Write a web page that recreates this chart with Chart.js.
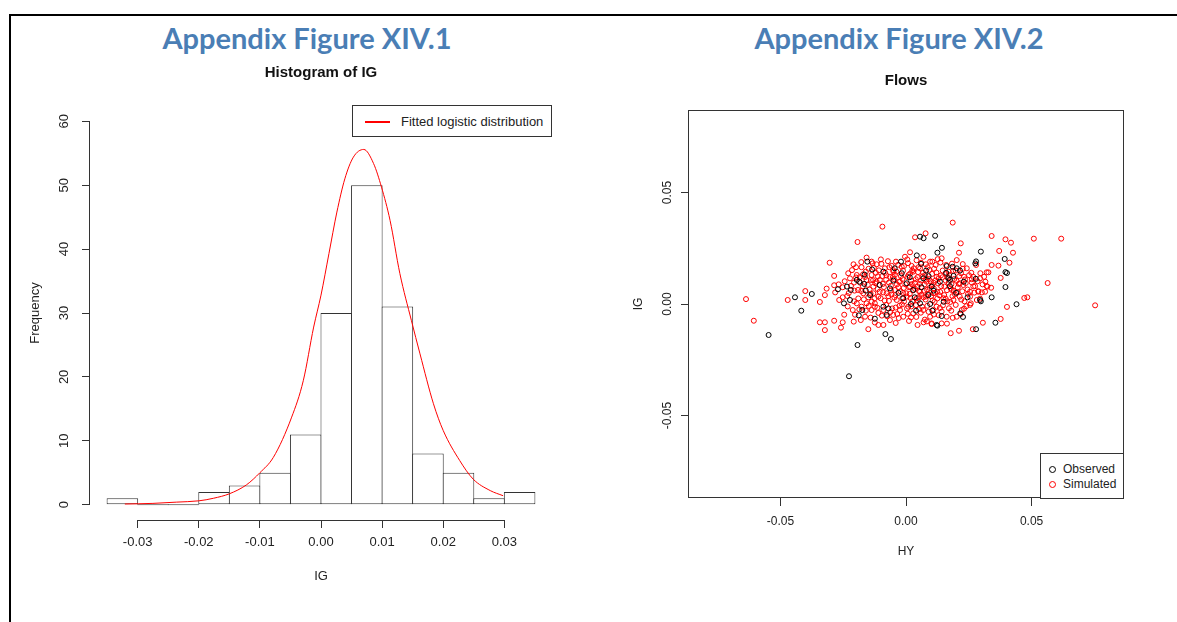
<!DOCTYPE html>
<html>
<head>
<meta charset="utf-8">
<script src="https://cdn.jsdelivr.net/npm/chart.js@4"></script>
<style>
body { margin:0; width:1177px; height:622px; background:#fff; overflow:hidden; position:relative; font-family:'Liberation Sans', Arial, sans-serif; }
.frameTop { position:absolute; left:9px; top:14px; right:0; height:2px; background:#000; }
.frameLeft { position:absolute; left:9px; top:14px; bottom:0; width:2px; background:#000; }
.head { position:absolute; top:22px; font-family:Lato, 'Open Sans', sans-serif; font-weight:bold; font-size:29px; line-height:32px; color:#4A7EB5; text-align:center; }
canvas { position:absolute; top:0; }
.leg { position:absolute; box-sizing:border-box; border:1px solid #333; background:#fff; color:#222; }
.leg span { position:absolute; white-space:nowrap; }
</style>
</head>
<body>
<div class="frameTop"></div>
<div class="frameLeft"></div>
<div class="head" style="left:0;width:614px">Appendix Figure XIV.1</div>
<div class="head" style="left:604px;width:590px">Appendix Figure XIV.2</div>

<canvas id="hist" width="642" height="622" style="left:0;width:642px;height:622px"></canvas>
<canvas id="flows" width="572" height="622" style="left:620px;width:572px;height:622px"></canvas>

<div class="leg" style="left:352px;top:105px;width:200px;height:32px;font-size:13px">
  <span style="left:12px;top:15px;width:25px;height:2px;background:#f00"></span>
  <span style="left:48px;top:8px">Fitted logistic distribution</span>
</div>
<div class="leg" style="left:1040px;top:453px;width:84px;height:46px;font-size:12px">
  <span style="left:8px;top:12px;width:5px;height:5px;border:1px solid #000;border-radius:50%"></span>
  <span style="left:22px;top:8px">Observed</span>
  <span style="left:8px;top:27px;width:5px;height:5px;border:1px solid #f00;border-radius:50%"></span>
  <span style="left:22px;top:23px">Simulated</span>
</div>

<script>
// гистограмма IG (ширина корзины 0.005)
const binCenters = [-0.0325, -0.0275, -0.0225, -0.0175, -0.0125, -0.0075, -0.0025, 0.0025, 0.0075, 0.0125, 0.0175, 0.0225, 0.0275, 0.0325];
const binCounts = [1, 0, 0, 2, 3, 5, 11, 30, 50, 31, 8, 5, 1, 2];

// точки красной кривой
const curveX = [-0.0321, -0.0275, -0.0236, -0.0200, -0.0176, -0.0150, -0.0122, -0.0100, -0.0078, -0.0048, -0.0029, -0.0012, 0.0000, 0.0013, 0.0026, 0.0039, 0.0053, 0.0070, 0.0086, 0.0099, 0.0113, 0.0129, 0.0148, 0.0162, 0.0184, 0.0200, 0.0227, 0.0249, 0.0277, 0.0298];
const curveY = [0.1, 0.2, 0.4, 0.6, 1.0, 1.7, 3.1, 5.0, 7.4, 13.7, 19.4, 27.8, 32.8, 39.3, 45.8, 51.0, 54.4, 55.6, 53.4, 49.7, 44.5, 36.2, 28.8, 23.6, 15.8, 11.6, 6.9, 4.0, 2.2, 1.4];

const histXTicks = [-0.03, 0.03];
const histYTicks = [0, 60];

// Flows: [HY, IG]
const observed = [
[-0.0547,-0.0139],[-0.0442,0.0030],[-0.0417,-0.0030],[-0.0375,0.0045],[-0.0271,0.0066],[-0.0193,-0.0184],[-0.0227,-0.0324],
[-0.0247,0.0003],[-0.0223,0.0018],[-0.0235,0.0078],[-0.0220,0.0063],[-0.0196,0.0108],[-0.0186,0.0100],[-0.0165,0.0132],
[-0.0166,0.0090],[-0.0188,-0.0051],[-0.0124,-0.0066],[-0.0174,-0.0027],[-0.0154,0.0190],[-0.0143,0.0040],
[0.0056,0.0302],[0.0070,0.0295],[0.0116,0.0306],[0.0143,0.0252],[0.0125,0.0230],[0.0043,0.0218],[0.0298,0.0235],
[0.0279,0.0191],[0.0276,0.0182],[0.0278,0.0113],[0.0298,0.0012],[0.0216,-0.0042],[0.0227,-0.0058],[0.0125,-0.0097],
[0.0279,-0.0113],[0.0356,-0.0084],[-0.0082,-0.0135],[-0.0060,-0.0157],[0.0162,0.0170],[0.0186,0.0167],[0.0202,0.0160],
[0.0189,0.0126],[0.0169,0.0115],[0.0142,-0.0054],[0.0096,0.0000],[0.0062,0.0075],
[0.0393,0.0202],[0.0396,0.0143],[0.0402,0.0139],[0.0396,0.0076],[0.0341,0.0030],[0.0440,-0.0001],
[-0.0090,0.0145],[-0.0017,0.0138],[0.0069,0.0115],[0.0175,0.0108],[0.0029,0.0063],[0.0089,0.0040],[-0.0064,0.0070],
[-0.0011,0.0026],[0.0056,0.0003],[-0.0090,-0.0012],[-0.0077,-0.0049],[0.0122,-0.0094],[0.0295,0.0018],[0.0003,0.0093],[0.0102,0.0078],
[-0.0135,0.0155],[-0.0105,0.0085],[-0.0050,0.0105],[-0.0030,0.0050],[0.0015,0.0120],[0.0035,0.0030],[0.0080,0.0150],
[0.0110,0.0060],[0.0135,0.0100],[0.0150,0.0010],[0.0200,0.0050],[0.0230,0.0100],[0.0245,0.0030],[-0.0160,0.0060],
[-0.0070,-0.0020],[0.0040,-0.0030],[0.0090,0.0125],[0.0060,0.0180],[-0.0020,0.0190],[0.0175,0.0080],[0.0105,-0.0030],
[-0.0045,0.0160],[0.0020,0.0000],[0.0160,0.0140],[0.0215,0.0150]
];

const simulated = [
[-0.0637,0.0022],[-0.0606,-0.0075],[-0.0471,0.0018],[-0.0401,0.0058],[-0.0401,0.0018],[-0.0343,0.0009],[-0.0323,0.0040],
[-0.0316,0.0069],[-0.0343,-0.0082],[-0.0323,-0.0082],[-0.0323,-0.0117],[-0.0286,-0.0075],[-0.0286,0.0084],[-0.0286,0.0126],
[-0.0304,0.0185],[-0.0259,-0.0106],[-0.0252,-0.0082],[-0.0246,-0.0048],[-0.0252,0.0075],[-0.0193,0.0278],[-0.0157,0.0208],
[-0.0215,0.0152],[-0.0199,0.0165],[-0.0177,0.0165],[-0.0223,0.0115],[-0.0207,0.0096],[-0.0252,0.0030],[-0.0234,0.0036],
[-0.0170,0.0048],[-0.0150,0.0030],[-0.0130,0.0048],[-0.0117,0.0100],[-0.0137,0.0130],[-0.0133,0.0182],[-0.0117,0.0178],
[-0.0191,0.0063],[-0.0157,0.0003],[-0.0137,-0.0027],[-0.0180,-0.0072],[-0.0150,-0.0113],[-0.0163,-0.0057],[-0.0212,-0.0027],
[-0.0177,-0.0012],[-0.0110,-0.0094],[-0.0196,0.0130],[-0.0157,0.0108],[-0.0196,0.0003],[-0.0124,0.0003],
[0.0341,0.0305],[0.0396,0.0290],[0.0418,0.0275],[0.0509,0.0293],[0.0618,0.0293],[0.0371,0.0238],[0.0426,0.0230],
[0.0341,0.0175],[0.0412,0.0185],[0.0377,0.0117],[0.0564,0.0094],[0.0339,0.0073],[0.0471,0.0027],[0.0483,0.0030],
[0.0402,-0.0013],[0.0753,-0.0006],[0.0377,-0.0067],
[0.0186,0.0365],[0.0036,0.0299],[0.0078,0.0317],[0.0218,0.0272],[0.0211,0.0230],[0.0226,0.0179],[0.0279,0.0175],
[0.0321,0.0142],[0.0311,0.0122],[0.0316,0.0100],[0.0324,0.0078],[0.0262,0.0096],[0.0255,0.0055],[0.0272,0.0051],
[0.0288,0.0055],[0.0302,0.0052],[0.0295,0.0024],[0.0258,0.0003],[0.0306,-0.0084],[0.0266,-0.0113],[0.0211,-0.0120],
[0.0178,-0.0131],[0.0102,-0.0090],[0.0070,-0.0082],
[-0.0094,0.0347],[0.0016,0.0232],[-0.0004,0.0212],[0.0069,0.0212],[0.0096,0.0190],[-0.0137,0.0190],[-0.0084,0.0160],
[-0.0051,0.0152],[-0.0017,0.0167],[0.0029,0.0145],[0.0056,0.0160],
[0.0142,0.0205],[0.0202,0.0197],[0.0242,0.0160],[0.0268,0.0122],[0.0295,0.0115],[0.0328,0.0142],[0.0368,0.0172],
[0.0321,0.0081],[0.0288,0.0058],[0.0315,0.0055],[0.0255,0.0033],[0.0215,0.0093],[0.0182,0.0063],[0.0169,0.0145],
[0.0122,0.0122],[0.0082,0.0100],[0.0016,0.0078],[-0.0024,0.0100],[-0.0064,0.0122],[-0.0104,0.0108],[-0.0130,0.0078],
[-0.0077,0.0048],[-0.0037,0.0018],[0.0003,0.0033],[0.0043,0.0026],[0.0109,0.0048],[0.0149,0.0026],[0.0189,0.0018],
[0.0122,-0.0012],[0.0069,-0.0027],[0.0029,-0.0042],[-0.0011,-0.0057],[-0.0051,-0.0049],[-0.0090,-0.0027],[-0.0124,-0.0012],
[-0.0064,-0.0072],[-0.0090,-0.0094],[-0.0024,-0.0027],[0.0096,-0.0057],[0.0162,-0.0057],[0.0222,-0.0027],[0.0255,-0.0004],
[0.0282,0.0018],[0.0202,-0.0057],[0.0142,-0.0087],[0.0102,-0.0087],[0.0009,-0.0012],[0.0056,0.0055],[-0.0044,0.0063],
[-0.0110,0.0033],
[-0.0185,0.0120],[-0.0160,0.0145],[-0.0145,0.0065],[-0.0120,0.0140],[-0.0105,0.0055],[-0.0098,0.0180],[-0.0092,0.0090],
[-0.0085,0.0015],[-0.0078,0.0128],[-0.0070,0.0035],[-0.0066,0.0165],[-0.0060,0.0082],[-0.0055,-0.0020],[-0.0048,0.0112],
[-0.0042,0.0040],[-0.0038,0.0145],[-0.0030,0.0075],[-0.0026,-0.0008],[-0.0020,0.0125],[-0.0012,0.0050],[-0.0008,0.0170],
[-0.0002,0.0088],[0.0004,-0.0020],[0.0010,0.0130],[0.0015,0.0045],[0.0020,0.0105],[0.0025,0.0012],[0.0031,0.0160],
[0.0036,0.0068],[0.0040,-0.0005],[0.0046,0.0120],[0.0050,0.0030],[0.0055,0.0090],[0.0060,0.0185],[0.0064,-0.0012],
[0.0068,0.0140],[0.0072,0.0060],[0.0078,0.0020],[0.0082,0.0110],[0.0086,0.0165],[0.0090,-0.0035],[0.0094,0.0072],
[0.0100,0.0035],[0.0104,0.0135],[0.0110,0.0095],[0.0114,0.0010],[0.0118,0.0175],[0.0124,0.0055],[0.0130,0.0115],
[0.0135,-0.0018],[0.0140,0.0080],[0.0146,0.0150],[0.0152,0.0040],[0.0158,0.0105],[0.0165,0.0012],[0.0172,0.0130],
[0.0178,0.0070],[0.0185,0.0035],[0.0192,0.0112],[0.0198,0.0150],[0.0205,0.0052],[0.0212,0.0125],[0.0220,0.0020],
[0.0228,0.0085],[0.0235,0.0110],[0.0245,0.0065],[-0.0140,0.0108],[-0.0172,0.0080],[-0.0110,-0.0040],[-0.0075,-0.0055],
[-0.0035,-0.0045],[0.0005,0.0200],[0.0050,0.0165],[0.0105,0.0190],[0.0160,0.0175],[-0.0040,0.0190],[0.0020,-0.0060],
[0.0075,-0.0070],[0.0130,-0.0050],[0.0180,-0.0030],[0.0240,-0.0010],[-0.0015,0.0025],[0.0060,0.0105],[0.0115,0.0050],
[0.0170,0.0095],[-0.0095,0.0125],[0.0035,0.0095],[0.0088,0.0045],[0.0145,0.0120],[-0.0060,0.0060],[-0.0028,0.0100],
[0.0012,0.0075],[0.0052,0.0058],[0.0098,0.0102],[0.0125,0.0025],[0.0190,0.0060],[-0.0125,0.0025],[-0.0190,0.0025],
[-0.0205,0.0060],[-0.0160,-0.0030],[-0.0100,0.0200],[-0.0050,0.0145],[0.0025,0.0150],[0.0070,0.0030],[0.0210,0.0090],
[0.0260,0.0140],[0.0275,0.0080],
// плотное ядро облака
[-0.0178,0.0188],[-0.0128,0.0162],[-0.0072,0.0192],[-0.0031,0.0176],[0.0008,0.0183],[0.0042,0.0196],[0.0079,0.0178],
[0.0112,0.0158],[0.0137,0.0186],[0.0183,0.0181],[0.0226,0.0158],[-0.0209,0.0178],[-0.0057,0.0171],[0.0022,0.0171],[0.0126,0.0201],
[-0.0230,0.0138],[-0.0171,0.0133],[-0.0149,0.0158],[-0.0108,0.0151],[-0.0083,0.0140],[-0.0044,0.0131],[-0.0012,0.0149],
[0.0017,0.0137],[0.0048,0.0143],[0.0076,0.0129],[0.0093,0.0153],[0.0121,0.0141],[0.0158,0.0137],[0.0188,0.0149],
[0.0219,0.0138],[0.0251,0.0129],[0.0296,0.0138],
[-0.0244,0.0102],[-0.0199,0.0119],[-0.0163,0.0121],[-0.0131,0.0107],[-0.0112,0.0124],[-0.0079,0.0109],[-0.0052,0.0121],
[-0.0014,0.0112],[0.0006,0.0121],[0.0039,0.0111],[0.0067,0.0124],[0.0091,0.0112],[0.0117,0.0105],[0.0139,0.0128],
[0.0166,0.0118],[0.0201,0.0104],[0.0231,0.0122],[0.0262,0.0111],[0.0285,0.0102],
[-0.0268,0.0088],[-0.0219,0.0081],[-0.0182,0.0095],[-0.0152,0.0086],[-0.0122,0.0093],[-0.0088,0.0076],[-0.0068,0.0096],
[-0.0036,0.0088],[-0.0009,0.0072],[0.0023,0.0089],[0.0046,0.0079],[0.0074,0.0088],[0.0104,0.0083],[0.0128,0.0092],
[0.0153,0.0078],[0.0181,0.0089],[0.0206,0.0074],[0.0238,0.0094],[0.0268,0.0079],[0.0305,0.0088],
[-0.0282,0.0052],[-0.0228,0.0049],[-0.0178,0.0058],[-0.0141,0.0046],[-0.0113,0.0067],[-0.0091,0.0052],[-0.0058,0.0043],
[-0.0022,0.0057],[0.0001,0.0048],[0.0028,0.0061],[0.0061,0.0041],[0.0084,0.0064],[0.0111,0.0069],[0.0136,0.0054],
[0.0163,0.0062],[0.0195,0.0043],[0.0224,0.0057],[0.0247,0.0045],
[-0.0266,0.0018],[-0.0207,0.0012],[-0.0168,0.0021],[-0.0136,0.0011],[-0.0101,0.0026],[-0.0068,0.0014],[-0.0046,0.0029],
[-0.0008,0.0011],[0.0018,0.0027],[0.0047,0.0015],[0.0081,0.0034],[0.0106,0.0016],[0.0133,0.0039],[0.0158,0.0024],
[0.0176,0.0009],[0.0214,0.0033],[0.0233,0.0012],
[-0.0232,-0.0011],[-0.0186,-0.0024],[-0.0148,-0.0009],[-0.0114,-0.0017],[-0.0079,-0.0004],[-0.0041,-0.0016],[-0.0016,-0.0002],
[0.0021,-0.0011],[0.0052,-0.0023],[0.0085,-0.0008],[0.0109,-0.0026],[0.0147,-0.0006],[0.0171,-0.0019],[0.0198,-0.0004],[0.0231,-0.0021],
[-0.0203,-0.0048],[-0.0141,-0.0061],[-0.0096,-0.0052],[-0.0062,-0.0036],[-0.0029,-0.0063],[0.0007,-0.0044],[0.0041,-0.0058],
[0.0059,-0.0039],[0.0111,-0.0047],[0.0142,-0.0034],[0.0186,-0.0062],[0.0218,-0.0045],
[-0.0124,-0.0083],[-0.0041,-0.0085],[0.0012,-0.0076],[0.0046,-0.0094],[0.0083,-0.0078],[0.0163,-0.0088],[-0.0208,-0.0079]
];

Chart.defaults.font.family = "'Liberation Sans', Arial, sans-serif";
Chart.defaults.color = '#222';
Chart.defaults.animation = false;

const lineCol = '#333';

// ось как в R: линия только от первого до последнего деления
const histAxes = {
  id: 'histAxes',
  afterDraw(chart) {
    const ctx = chart.ctx, a = chart.chartArea;
    const xs = chart.scales.x, ys = chart.scales.y;
    ctx.save();
    ctx.strokeStyle = lineCol;
    ctx.lineWidth = 1;
    ctx.beginPath();
    const yb = Math.round(a.bottom) + 0.5;
    ctx.moveTo(xs.getPixelForValue(histXTicks[0]), yb);
    ctx.lineTo(xs.getPixelForValue(histXTicks[1]), yb);
    const xl = Math.round(a.left) - 0.5;
    ctx.moveTo(xl, ys.getPixelForValue(histYTicks[0]));
    ctx.lineTo(xl, ys.getPixelForValue(histYTicks[1]));
    ctx.stroke();
    ctx.restore();
  }
};

// рамка вокруг области графика
const boxFrame = {
  id: 'boxFrame',
  afterDraw(chart) {
    const ctx = chart.ctx, a = chart.chartArea;
    ctx.save();
    ctx.strokeStyle = lineCol;
    ctx.lineWidth = 1;
    ctx.strokeRect(Math.round(a.left) - 0.5, Math.round(a.top) + 0.5, Math.round(a.right - a.left) + 1, Math.round(a.bottom - a.top) - 1);
    ctx.restore();
  }
};

function tickGrid() {
  return { display: true, drawOnChartArea: false, drawTicks: true, tickLength: 8, color: lineCol };
}

// пустая ось справа, чтобы заголовок был по центру области графика
function spacer(w) {
  return {
    position: 'right', display: true,
    ticks: { display: false }, grid: { display: false }, border: { display: false },
    afterFit(s) { s.width = w; }
  };
}

new Chart(document.getElementById('hist'), {
  type: 'bar',
  data: {
    datasets: [
      {
        type: 'line',
        data: curveX.map((x, i) => ({ x: x, y: curveY[i] })),
        borderColor: '#ff0000',
        borderWidth: 1,
        pointRadius: 0,
        cubicInterpolationMode: 'monotone',
        fill: false,
        order: 0
      },
      {
        type: 'bar',
        data: binCenters.map((x, i) => ({ x: x, y: binCounts[i] })),
        backgroundColor: '#fff',
        borderColor: lineCol,
        borderWidth: 1,
        borderSkipped: false,
        inflateAmount: 0,
        minBarLength: 1,
        barPercentage: 1.033,
        categoryPercentage: 1,
        order: 1
      }
    ]
  },
  options: {
    responsive: false,
    devicePixelRatio: 1,
    events: [],
    layout: { padding: 0 },
    plugins: {
      legend: { display: false },
      tooltip: { enabled: false },
      title: { display: true, text: 'Histogram of IG', color: '#111', font: { size: 15, weight: 'bold' }, padding: { top: 64, bottom: 24 } }
    },
    scales: {
      x: {
        type: 'linear', min: -0.0378, max: 0.0378, offset: false,
        grid: Object.assign(tickGrid(), { offset: false }),
        border: { display: false },
        ticks: { stepSize: 0.01, includeBounds: false, padding: 7, font: { size: 13 }, maxRotation: 0, callback: v => Number(v).toFixed(2) },
        title: { display: true, text: 'IG', font: { size: 13 }, padding: { top: 0, bottom: 37.5 } },
        afterFit(s) { s.height = 102; }
      },
      y: {
        min: -2.4, max: 62.4,
        grid: tickGrid(),
        border: { display: false },
        ticks: { stepSize: 10, includeBounds: false, padding: 10, font: { size: 13 }, minRotation: 90, maxRotation: 90, crossAlign: 'center' },
        title: { display: true, text: 'Frequency', font: { size: 13 }, padding: { top: 27.7, bottom: 0 } },
        afterFit(s) { s.width = 90; }
      },
      pad: spacer(90)
    }
  },
  plugins: [histAxes]
});

new Chart(document.getElementById('flows'), {
  type: 'scatter',
  data: {
    datasets: [
      {
        label: 'Observed',
        data: observed.map(p => ({ x: p[0], y: p[1] })),
        borderColor: '#000',
        backgroundColor: 'rgba(0,0,0,0)',
        pointRadius: 2.5,
        pointBorderWidth: 1,
        order: 0
      },
      {
        label: 'Simulated',
        data: simulated.map(p => ({ x: p[0], y: p[1] })),
        borderColor: '#ff0000',
        backgroundColor: 'rgba(0,0,0,0)',
        pointRadius: 2.5,
        pointBorderWidth: 1,
        order: 1
      }
    ]
  },
  options: {
    responsive: false,
    devicePixelRatio: 1,
    events: [],
    layout: { padding: 0 },
    plugins: {
      legend: { display: false },
      tooltip: { enabled: false },
      title: { display: true, text: 'Flows', color: '#111', font: { size: 15, weight: 'bold' }, padding: { top: 72, bottom: 20 } }
    },
    scales: {
      x: {
        type: 'linear', min: -0.0864, max: 0.0864,
        grid: tickGrid(),
        border: { display: false },
        ticks: { stepSize: 0.05, includeBounds: false, padding: 8.5, font: { size: 12 }, maxRotation: 0, callback: v => Number(v).toFixed(2) },
        title: { display: true, text: 'HY', font: { size: 12 }, padding: { top: 0, bottom: 63 } },
        afterFit(s) { s.height = 124; }
      },
      y: {
        min: -0.087, max: 0.087,
        grid: tickGrid(),
        border: { display: false },
        ticks: { stepSize: 0.05, includeBounds: false, padding: 0, font: { size: 12 }, minRotation: 90, maxRotation: 90, crossAlign: 'center', callback: v => Number(v).toFixed(2) },
        title: { display: true, text: 'IG', font: { size: 12 }, padding: { top: 11.6, bottom: 0 } },
        afterFit(s) { s.width = 69; }
      },
      pad: spacer(69)
    }
  },
  plugins: [boxFrame]
});
</script>
</body>
</html>
